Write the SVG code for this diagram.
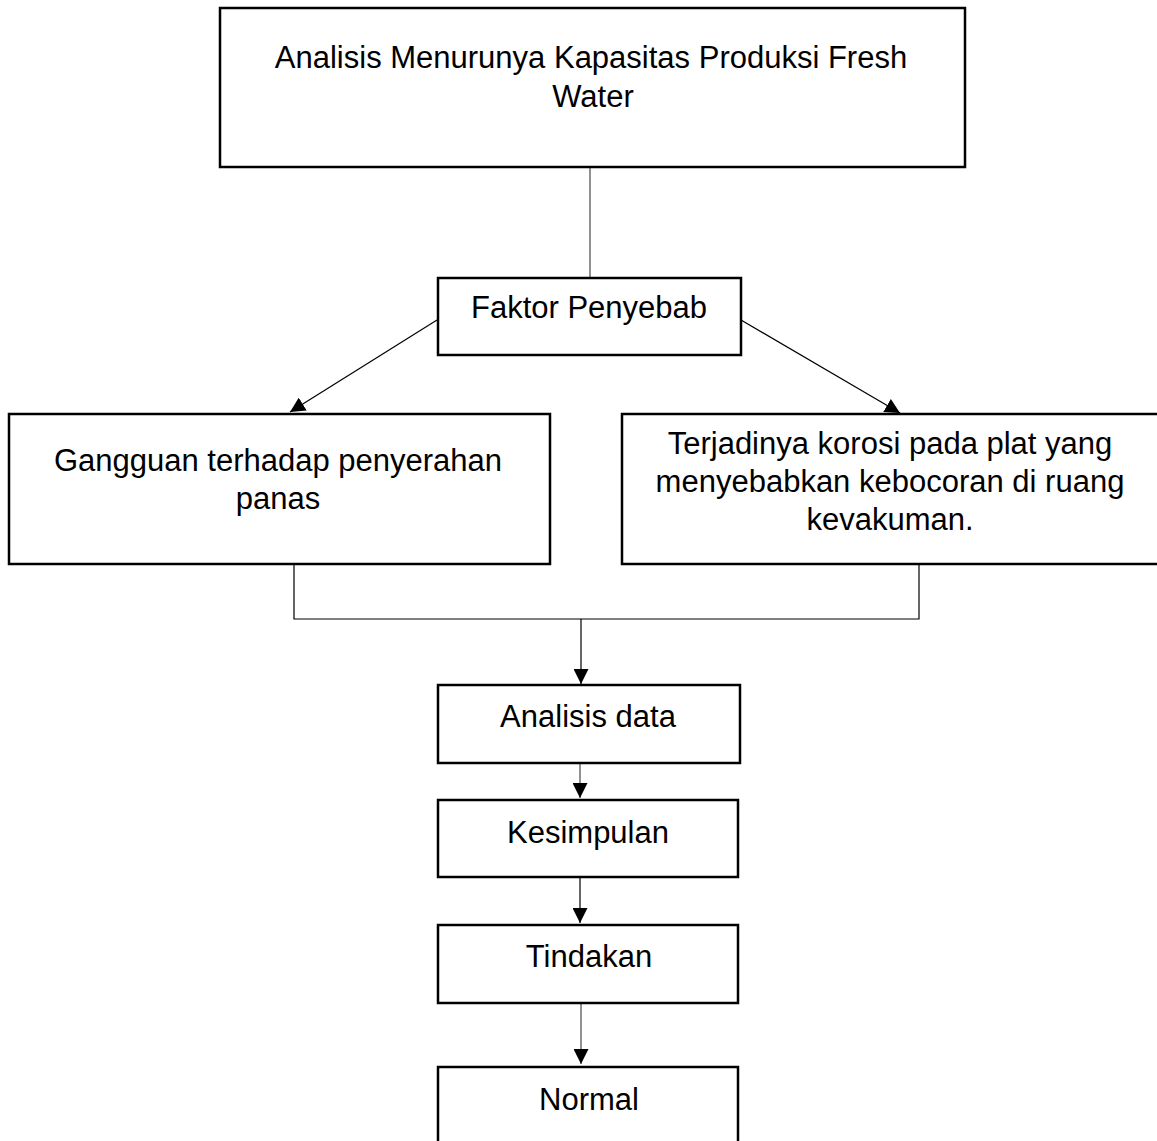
<svg xmlns="http://www.w3.org/2000/svg" width="1157" height="1141" viewBox="0 0 1157 1141">
<style>
.box{fill:#fff;stroke:#000;stroke-width:2.5}
.t{font-family:"Liberation Sans",Arial,sans-serif;font-size:31px;fill:#000;text-anchor:middle}
.c{fill:none;stroke:#000;stroke-width:1.2}
.g{fill:none;stroke:#555;stroke-width:1.3}
</style>
<defs>
<marker id="ah" viewBox="0 0 15 15" refX="15" refY="7.5" markerWidth="15" markerHeight="15" markerUnits="userSpaceOnUse" orient="auto">
<path d="M0,0 L15,7.5 L0,15 Z" fill="#000"/>
</marker>
</defs>
<rect width="1157" height="1141" fill="#fff"/>
<g id="connectors">
<line class="g" x1="590" y1="167" x2="590" y2="277"/>
<line class="c" x1="437" y1="320" x2="290" y2="412" marker-end="url(#ah)"/>
<line class="c" x1="741" y1="320" x2="900" y2="413" marker-end="url(#ah)"/>
<polyline class="c" points="294,564 294,619 919,619 919,564"/>
<line class="c" x1="581" y1="619" x2="581" y2="684" marker-end="url(#ah)"/>
<line class="g" x1="580" y1="763" x2="580" y2="798" marker-end="url(#ah)"/>
<line class="c" x1="580" y1="877" x2="580" y2="923" marker-end="url(#ah)"/>
<line class="g" x1="581" y1="997" x2="581" y2="1064" marker-end="url(#ah)"/>
</g>
<g id="n1">
<rect class="box" x="220" y="8" width="745" height="159"/>
<text class="t" x="591" y="68">Analisis Menurunya Kapasitas Produksi Fresh</text>
<text class="t" x="593" y="107">Water</text>
</g>
<g id="n2">
<rect class="box" x="438" y="278" width="303" height="77"/>
<text class="t" x="589" y="318">Faktor Penyebab</text>
</g>
<g id="n3">
<rect class="box" x="9" y="414" width="541" height="150"/>
<text class="t" x="278" y="471">Gangguan terhadap penyerahan</text>
<text class="t" x="278" y="509">panas</text>
</g>
<g id="n4">
<rect class="box" x="622" y="414" width="545" height="150"/>
<text class="t" x="890" y="454">Terjadinya korosi pada plat yang</text>
<text class="t" x="890" y="492">menyebabkan kebocoran di ruang</text>
<text class="t" x="890" y="530">kevakuman.</text>
</g>
<g id="n5">
<rect class="box" x="438" y="685" width="302" height="78"/>
<text class="t" x="588" y="727">Analisis data</text>
</g>
<g id="n6">
<rect class="box" x="438" y="800" width="300" height="77"/>
<text class="t" x="588" y="843">Kesimpulan</text>
</g>
<g id="n7">
<rect class="box" x="438" y="925" width="300" height="78"/>
<text class="t" x="589" y="967">Tindakan</text>
</g>
<g id="n8">
<rect class="box" x="438" y="1067" width="300" height="90"/>
<text class="t" x="589" y="1110">Normal</text>
</g>
</svg>
